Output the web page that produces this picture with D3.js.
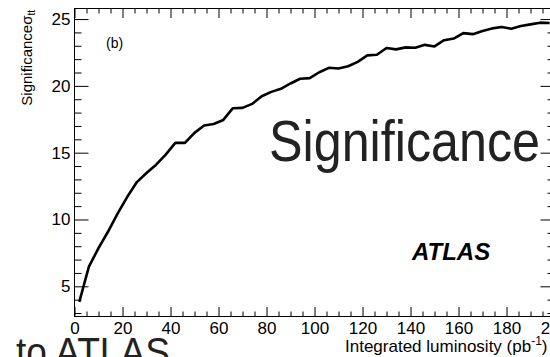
<!DOCTYPE html>
<html>
<head>
<meta charset="utf-8">
<script src="https://cdn.jsdelivr.net/npm/d3@7"></script>
<style>
  body { margin: 0; background: #fff; }
  svg { display: block; }
  text { font-family: "Liberation Sans", Arial, Helvetica, sans-serif; }
  .caption { fill: #222; }
</style>
</head>
<body>
<script>
// Integrated luminosity (pb^-1) of each point on the curve
const luminosity = [2, 6, 10, 14, 18, 22, 26, 30, 34, 38,
  42, 46, 50, 54, 58, 62, 66, 70, 74, 78,
  82, 86, 90, 94, 98, 102, 106, 110, 114, 118,
  122, 126, 130, 134, 138, 142, 146, 150, 154, 158,
  162, 166, 170, 174, 178, 182, 186, 190, 194, 198];

// Expected significance of the ttbar cross-section measurement
const significance = [3.84, 6.47, 7.85, 9.1, 10.45, 11.7, 12.8, 13.48, 14.1, 14.85,
  15.73, 15.73, 16.48, 17.03, 17.15, 17.45, 18.33, 18.35, 18.65, 19.22,
  19.55, 19.78, 20.18, 20.53, 20.58, 21.02, 21.35, 21.3, 21.47, 21.8,
  22.28, 22.33, 22.83, 22.73, 22.88, 22.85, 23.07, 22.95, 23.42, 23.54,
  23.95, 23.87, 24.1, 24.3, 24.4, 24.28, 24.48, 24.6, 24.73, 24.7];

const xMajorTicks = [0, 20, 40, 60, 80, 100, 120, 140, 160, 180, 200];
const xMinorTicks = d3.range(0, 201, 5).filter(v => v % 20 !== 0);
const yMajorTicks = [5, 10, 15, 20, 25];
const yMinorTicks = d3.range(3, 26, 1).filter(v => v % 5 !== 0);

const W = 550, H = 357;
const plot = { left: 74.5, right: 554.5, top: 8.5, bottom: 316.5 };

const svg = d3.select("body").append("svg")
  .attr("width", W).attr("height", H);

const x = d3.scaleLinear().domain([0, 200]).range([plot.left, plot.right]);
const y = d3.scaleLinear().domain([2.74, 25.79]).range([plot.bottom, plot.top]);

function styleAxis(g) {
  g.select(".domain").remove();
  g.selectAll(".tick line").attr("stroke", "#000").attr("stroke-width", 1);
  g.selectAll(".tick text")
    .attr("fill", "#000")
    .style("font-family", '"Liberation Sans", Arial, sans-serif')
    .style("font-size", "17px");
}

// bottom axis: labelled major ticks pointing inward
svg.append("g")
  .attr("transform", `translate(0,${plot.bottom})`)
  .call(d3.axisBottom(x).tickValues(xMajorTicks).tickSize(-9.5).tickPadding(5)
    .tickFormat(d3.format("d")))
  .call(styleAxis);
svg.append("g")
  .attr("transform", `translate(0,${plot.bottom})`)
  .call(d3.axisBottom(x).tickValues(xMinorTicks).tickSize(-5).tickFormat(""))
  .call(styleAxis);

// top axis mirror ticks
svg.append("g")
  .attr("transform", `translate(0,${plot.top})`)
  .call(d3.axisTop(x).tickValues(xMajorTicks).tickSize(-9.5).tickFormat(""))
  .call(styleAxis);
svg.append("g")
  .attr("transform", `translate(0,${plot.top})`)
  .call(d3.axisTop(x).tickValues(xMinorTicks).tickSize(-5).tickFormat(""))
  .call(styleAxis);

// left axis
svg.append("g")
  .attr("transform", `translate(${plot.left},0)`)
  .call(d3.axisLeft(y).tickValues(yMajorTicks).tickSize(-14).tickPadding(4)
    .tickFormat(d3.format("d")))
  .call(styleAxis);
svg.append("g")
  .attr("transform", `translate(${plot.left},0)`)
  .call(d3.axisLeft(y).tickValues(yMinorTicks).tickSize(-7).tickFormat(""))
  .call(styleAxis);

// right axis mirror ticks
svg.append("g")
  .attr("transform", `translate(${plot.right},0)`)
  .call(d3.axisRight(y).tickValues(yMajorTicks).tickSize(-14).tickFormat(""))
  .call(styleAxis);
svg.append("g")
  .attr("transform", `translate(${plot.right},0)`)
  .call(d3.axisRight(y).tickValues(yMinorTicks).tickSize(-7).tickFormat(""))
  .call(styleAxis);

// frame
svg.append("rect")
  .attr("x", plot.left).attr("y", plot.top)
  .attr("width", plot.right - plot.left).attr("height", plot.bottom - plot.top)
  .attr("fill", "none").attr("stroke", "#000").attr("stroke-width", 1);

// significance curve
const line = d3.line()
  .x((d, i) => x(luminosity[i]))
  .y(d => y(d));
svg.append("path")
  .datum(significance)
  .attr("d", line)
  .attr("fill", "none")
  .attr("stroke", "#000")
  .attr("stroke-width", 2.6)
  .attr("stroke-linejoin", "round");

// axis titles
const yTitle = svg.append("text")
  .attr("transform", "translate(32,10) rotate(-90)")
  .attr("text-anchor", "end")
  .style("font-size", "15px");
yTitle.append("tspan").text("Significance\u03C3");
yTitle.append("tspan").attr("dy", 3).style("font-size", "10px").text("tt");

const xTitle = svg.append("text")
  .attr("x", 345).attr("y", 352)
  .style("font-size", "17px");
xTitle.append("tspan").text("Integrated luminosity (pb");
xTitle.append("tspan").attr("dy", -7).style("font-size", "12px").text("-1");
xTitle.append("tspan").attr("dy", 7).text(")");

// panel and experiment labels
svg.append("text").attr("x", 106).attr("y", 48)
  .style("font-size", "14px").text("(b)");
svg.append("text").attr("x", 412).attr("y", 260)
  .style("font-size", "24px").style("font-weight", "bold").style("font-style", "italic")
  .text("ATLAS");

// overlaid caption text, set in a condensed width
svg.append("text").attr("class", "caption").attr("x", 269).attr("y", 161)
  .attr("textLength", 271).attr("lengthAdjust", "spacingAndGlyphs")
  .style("font-size", "58px").text("Significance");
svg.append("text").attr("class", "caption").attr("x", 16).attr("y", 366)
  .attr("textLength", 154).attr("lengthAdjust", "spacingAndGlyphs")
  .style("font-size", "40px").text("to ATLAS");
</script>
</body>
</html>
